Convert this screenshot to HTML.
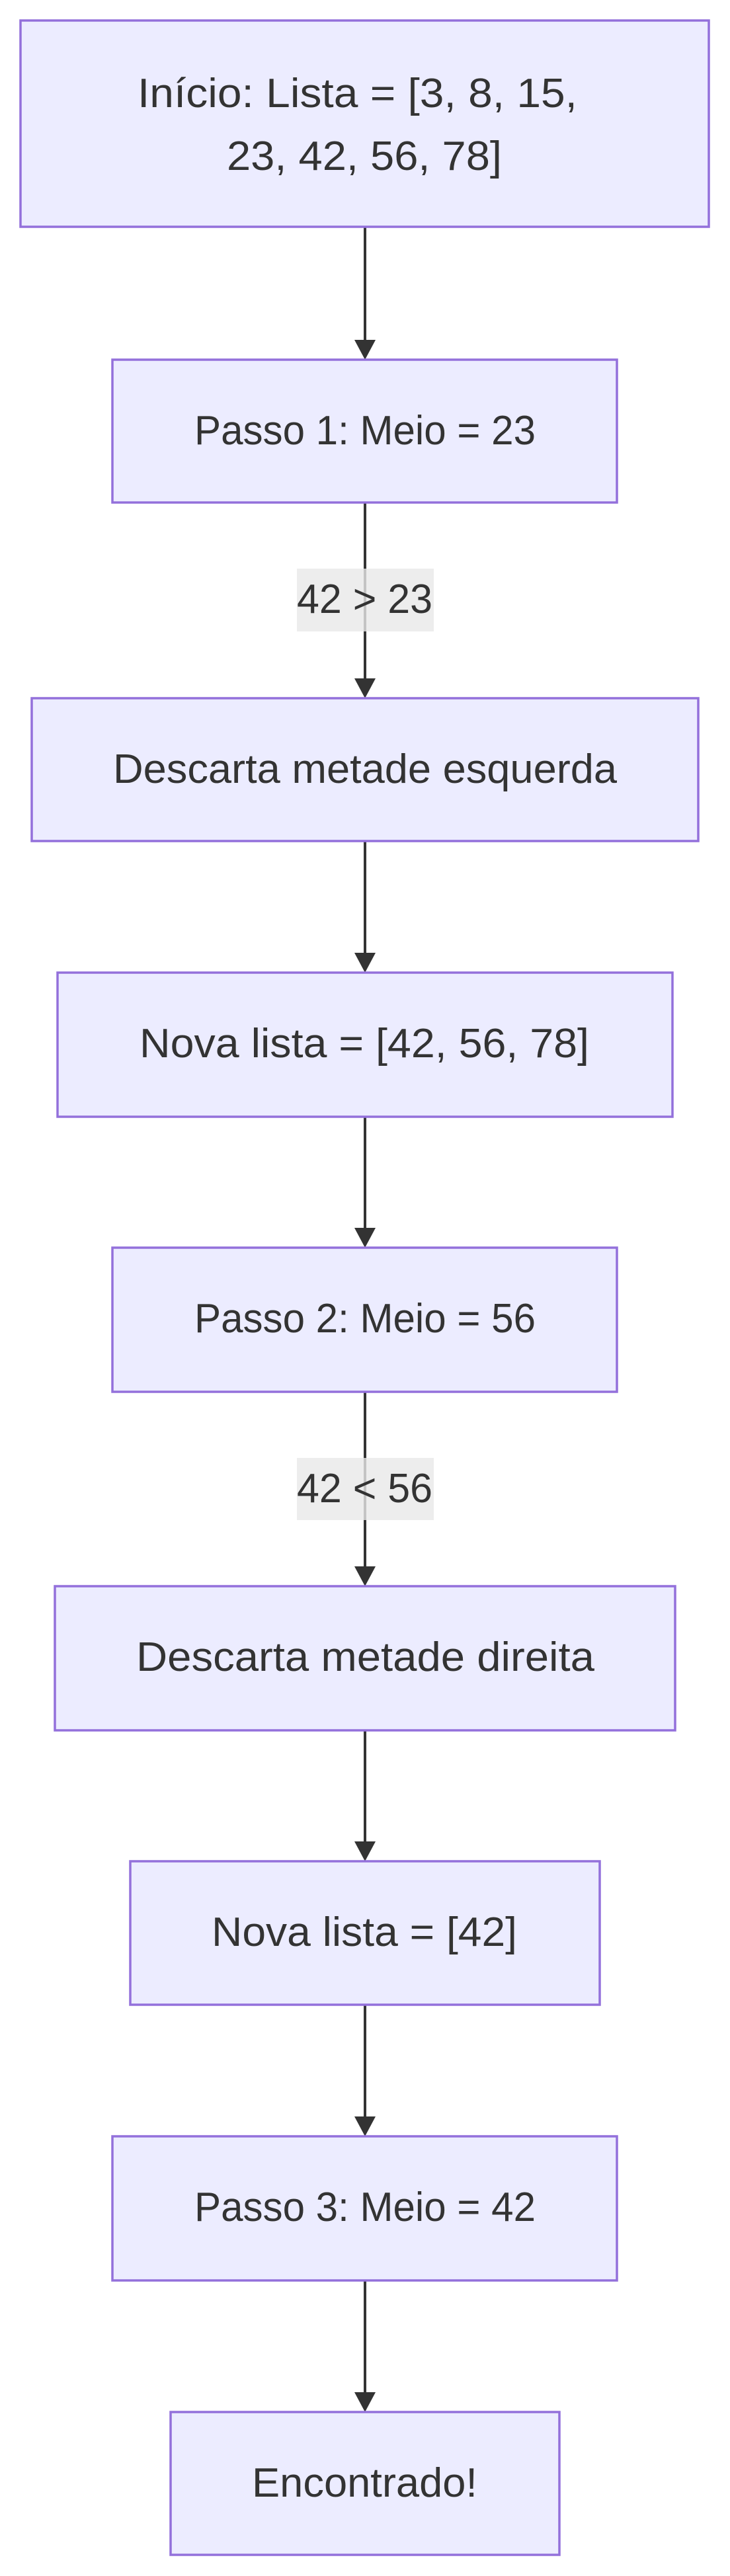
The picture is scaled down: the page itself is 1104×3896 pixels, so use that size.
<!DOCTYPE html>
<html><head><meta charset="utf-8"><style>html,body{margin:0;padding:0;background:#fff}svg{display:block}</style></head>
<body>
<svg width="1104" height="3896" viewBox="0 0 1104 3896" xmlns="http://www.w3.org/2000/svg" font-family="'Liberation Sans', sans-serif" font-size="62" fill="#333">
<g stroke="#333" stroke-width="4">
<line x1="552" y1="343" x2="552" y2="516"/>
<line x1="552" y1="760" x2="552" y2="1028"/>
<line x1="552" y1="1272" x2="552" y2="1443"/>
<line x1="552" y1="1689" x2="552" y2="1858"/>
<line x1="552" y1="2105" x2="552" y2="2371"/>
<line x1="552" y1="2617" x2="552" y2="2787"/>
<line x1="552" y1="3032" x2="552" y2="3203"/>
<line x1="552" y1="3449" x2="552" y2="3620"/>
</g>
<g fill="#333">
<polygon points="536,514 568,514 552,544"/>
<polygon points="536,1026 568,1026 552,1056"/>
<polygon points="536,1441 568,1441 552,1471"/>
<polygon points="536,1857 568,1857 552,1887"/>
<polygon points="536,2369 568,2369 552,2399"/>
<polygon points="536,2785 568,2785 552,2815"/>
<polygon points="536,3201 568,3201 552,3231"/>
<polygon points="536,3618 568,3618 552,3648"/>
</g>
<g fill="#ECECFF" stroke="#9370DB" stroke-width="3.5">
<rect x="31" y="31" width="1041" height="312"/>
<rect x="170" y="544" width="763" height="216"/>
<rect x="48" y="1056" width="1008" height="216"/>
<rect x="87" y="1471" width="930" height="218"/>
<rect x="170" y="1887" width="763" height="218"/>
<rect x="83" y="2399" width="938" height="218"/>
<rect x="197" y="2815" width="710" height="217"/>
<rect x="170" y="3231" width="763" height="218"/>
<rect x="258" y="3648" width="588" height="216"/>
</g>
<rect x="449" y="860" width="207" height="95" fill="#e8e8e8" opacity="0.8"/>
<rect x="449" y="2205" width="207" height="94" fill="#e8e8e8" opacity="0.8"/>
<g>
<text x="208" y="162" textLength="665" lengthAdjust="spacingAndGlyphs">Início: Lista = [3, 8, 15,</text>
<text x="343" y="257" textLength="416" lengthAdjust="spacingAndGlyphs">23, 42, 56, 78]</text>
<text x="294" y="672" textLength="516" lengthAdjust="spacingAndGlyphs">Passo 1: Meio = 23</text>
<text x="449" y="927" textLength="205" lengthAdjust="spacingAndGlyphs">42 &gt; 23</text>
<text x="171" y="1184" textLength="762" lengthAdjust="spacingAndGlyphs">Descarta metade esquerda</text>
<text x="211" y="1599" textLength="680" lengthAdjust="spacingAndGlyphs">Nova lista = [42, 56, 78]</text>
<text x="294" y="2015" textLength="516" lengthAdjust="spacingAndGlyphs">Passo 2: Meio = 56</text>
<text x="449" y="2272" textLength="205" lengthAdjust="spacingAndGlyphs">42 &lt; 56</text>
<text x="206" y="2527" textLength="693" lengthAdjust="spacingAndGlyphs">Descarta metade direita</text>
<text x="320" y="2943" textLength="462" lengthAdjust="spacingAndGlyphs">Nova lista = [42]</text>
<text x="294" y="3359" textLength="516" lengthAdjust="spacingAndGlyphs">Passo 3: Meio = 42</text>
<text x="381" y="3776" textLength="341" lengthAdjust="spacingAndGlyphs">Encontrado!</text>
</g>
</svg>
</body></html>
